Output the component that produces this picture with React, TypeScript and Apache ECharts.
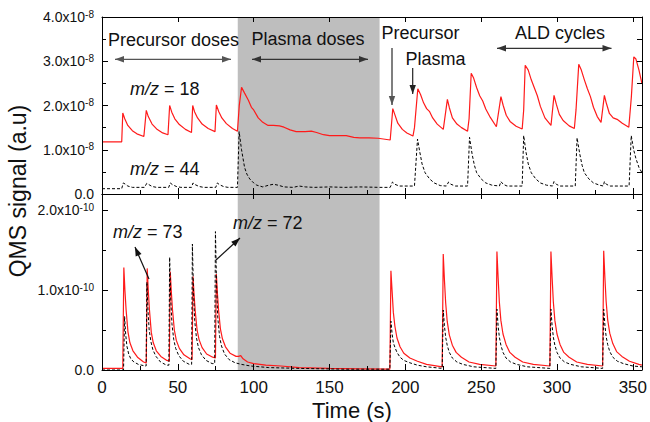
import React, { useEffect, useRef } from 'react';
import * as echarts from 'echarts';

// ---------- data ----------
const timeRange = [0, 356];
const plasmaBand = [89.5, 183];
const xTickStep = 50;
const topTicks = [0, 4];      // x 1e-8
const bottomTicks = [0, 2.2]; // x 1e-10
const topExp = '-8';
const bottomExp = '-10';

// m/z = 18 (units 1e-8)
const mz18: [number, number][] = [
  [0, 1.18], [13, 1.18], [13.7, 1.83], [15, 1.7], [17, 1.55], [20, 1.43], [23, 1.36], [27.6, 1.3],
  [29.2, 1.89], [30.5, 1.75], [33, 1.58], [36, 1.47], [40, 1.38], [43.5, 1.34],
  [44.6, 2.0], [46, 1.85], [48, 1.7], [51, 1.57], [55, 1.46], [59, 1.39],
  [59.8, 2.0], [61, 1.86], [63, 1.72], [66, 1.58], [70, 1.48], [74.5, 1.41],
  [75.4, 2.01], [77, 1.86], [79, 1.72], [82, 1.59], [86, 1.48], [89.3, 1.42],
  [90.5, 2.0], [92, 2.41], [94, 2.28], [96.5, 2.12], [98.5, 1.96], [100, 1.9], [103, 1.72], [106, 1.62],
  [109.5, 1.55], [113, 1.55], [117, 1.54], [120, 1.51], [124, 1.45], [128, 1.41], [134, 1.41], [138, 1.42],
  [141.5, 1.39], [146, 1.34], [150, 1.32], [156, 1.32], [161, 1.32], [166, 1.28], [170, 1.27], [176, 1.27],
  [182, 1.26], [190, 1.22],
  [191.7, 1.93], [193, 1.8], [195, 1.6], [198, 1.46], [201, 1.38], [205, 1.31],
  [206, 1.5], [208.2, 2.38], [210, 2.25], [212, 2.06], [214, 1.93], [216, 1.86], [218, 1.72], [221, 1.58], [225, 1.46],
  [227.7, 2.14], [229, 1.95], [231, 1.72], [234, 1.58], [237, 1.5], [241, 1.42],
  [242, 1.7], [243.4, 2.73], [245, 2.62], [247, 2.4], [249, 2.22], [251, 2.1], [253, 1.92], [256, 1.73], [260, 1.52],
  [263, 2.2], [264.5, 2.0], [266.5, 1.78], [269, 1.64], [273, 1.53], [277, 1.47],
  [278, 1.9], [279, 2.91], [281, 2.8], [283, 2.58], [285, 2.4], [287, 2.22], [289, 1.98], [292, 1.72], [296, 1.55],
  [298, 2.23], [299.5, 2.03], [301.5, 1.8], [304, 1.66], [308, 1.54], [311.4, 1.48],
  [312.5, 1.9], [314.3, 2.93], [316, 2.8], [318, 2.58], [320, 2.38], [322, 2.2], [324, 1.96], [326.5, 1.75], [329, 1.62],
  [331.2, 2.23], [332.5, 2.05], [334.5, 1.82], [337, 1.72], [340, 1.68], [343, 1.6], [347.3, 1.51],
  [349, 2.2], [350.6, 3.1], [352, 3.05], [354, 2.8], [356, 2.49],
];

// m/z = 44 (units 1e-8)
const mz44: [number, number][] = [
  [0, 0.12], [13, 0.12], [14, 0.25], [15.5, 0.22], [17, 0.18], [20, 0.15], [28, 0.15],
  [29.5, 0.24], [31, 0.21], [33, 0.17], [36, 0.15], [44, 0.15],
  [45, 0.25], [46.5, 0.21], [49, 0.17], [52, 0.15], [59, 0.15],
  [60, 0.25], [61.5, 0.21], [64, 0.17], [67, 0.15], [75, 0.15],
  [76, 0.25], [77.5, 0.21], [80, 0.17], [83, 0.15], [89.3, 0.15],
  [90.4, 1.41], [92, 1.0], [94, 0.6], [95.5, 0.45], [97.4, 0.34], [100, 0.25], [102, 0.2], [106, 0.16],
  [110, 0.2], [113, 0.22], [116, 0.2], [120, 0.16], [126, 0.15], [130, 0.18], [134, 0.16], [140, 0.15],
  [150, 0.16], [160, 0.15], [170, 0.16], [183, 0.15], [190, 0.15],
  [191.5, 0.27], [193, 0.22], [196, 0.18], [206, 0.18],
  [208, 1.24], [209.5, 0.95], [211, 0.68], [213, 0.48], [216, 0.34], [219, 0.25], [223, 0.19], [227, 0.18],
  [228.5, 0.27], [230, 0.22], [233, 0.18], [241, 0.18],
  [242.3, 1.28], [244, 0.9], [245.5, 0.65], [247, 0.48], [250, 0.34], [253, 0.25], [257, 0.2], [262, 0.18],
  [263, 0.28], [264.5, 0.22], [267, 0.18], [277, 0.18],
  [278, 1.32], [279.5, 0.95], [281, 0.68], [283, 0.48], [286, 0.34], [289, 0.25], [293, 0.2], [297, 0.18],
  [298, 0.28], [299.5, 0.22], [302, 0.18], [312, 0.18],
  [313.2, 1.27], [315, 0.9], [316.5, 0.65], [318, 0.48], [321, 0.34], [324, 0.25], [328, 0.2], [330.5, 0.18],
  [331.2, 0.28], [332.5, 0.22], [335, 0.18], [347.5, 0.18],
  [348.9, 1.32], [350.5, 1.0], [352, 0.8], [354, 0.6], [356, 0.48],
];

// m/z = 73 (units 1e-10)
const mz73: [number, number][] = [
  [0, 0.02], [13.7, 0.02], [14.4, 1.28], [15.1, 1.0], [15.9, 0.75], [17.1, 0.48], [18.4, 0.34], [20.4, 0.24], [23.4, 0.16], [27.4, 0.1], [29.2, 0.09],
  [29.8, 1.27], [30.5, 1.0], [31.3, 0.75], [32.5, 0.47], [33.8, 0.34], [35.8, 0.24], [38.8, 0.17], [42.8, 0.12], [44.4, 0.11],
  [45, 1.23], [45.7, 0.98], [46.5, 0.75], [47.7, 0.5], [49, 0.37], [51, 0.27], [54, 0.19], [58, 0.14], [59.4, 0.13],
  [60, 1.17], [60.7, 0.94], [61.5, 0.73], [62.7, 0.5], [64, 0.38], [66, 0.28], [69, 0.2], [73, 0.16], [74.8, 0.15],
  [75.4, 1.2], [76.1, 0.96], [76.9, 0.74], [78.1, 0.51], [79.4, 0.39], [81.4, 0.29], [84.4, 0.21], [88.4, 0.17],
  [90, 0.17], [91.5, 0.18], [93, 0.14], [96, 0.1], [100, 0.08], [108, 0.06], [118, 0.05], [130, 0.03], [150, 0.02], [170, 0.015], [189.8, 0.01],
  [190.5, 1.24], [191.3, 0.98], [192.1, 0.72], [193.1, 0.55], [194.5, 0.4], [196.5, 0.29], [199, 0.21], [203, 0.15], [208, 0.11], [214, 0.07], [224.3, 0.04],
  [225, 1.45], [225.8, 1.12], [226.6, 0.84], [227.6, 0.61], [229, 0.44], [231, 0.31], [233.5, 0.22], [237, 0.16], [242, 0.1], [249, 0.07], [259.7, 0.05],
  [260.4, 1.48], [261.2, 1.15], [262, 0.85], [263, 0.62], [264.4, 0.45], [266.4, 0.32], [268.9, 0.22], [272.4, 0.16], [277.4, 0.1], [284.4, 0.07], [295.3, 0.05],
  [296, 1.48], [296.8, 1.15], [297.6, 0.85], [298.6, 0.62], [300, 0.45], [302, 0.32], [304.5, 0.22], [308, 0.16], [313, 0.1], [320, 0.07], [330.1, 0.05],
  [330.8, 1.49], [331.6, 1.15], [332.4, 0.86], [333.4, 0.63], [334.8, 0.46], [336.8, 0.33], [339.3, 0.23], [342.8, 0.17], [347.8, 0.11], [354, 0.07], [356, 0.06],
];

// m/z = 72 (units 1e-10)
const mz72: [number, number][] = [
  [0, 0.0], [14.2, 0.0], [14.9, 0.67], [15.6, 0.45], [16.4, 0.3], [17.6, 0.2], [19, 0.14], [21, 0.1], [24, 0.07], [28.5, 0.05], [29.1, 0.05],
  [29.6, 1.1], [30.3, 0.75], [31.1, 0.5], [32.3, 0.35], [33.6, 0.25], [35.6, 0.17], [38.6, 0.1], [42.6, 0.06], [44.1, 0.06],
  [44.6, 1.41], [45.3, 0.9], [46.1, 0.58], [47.3, 0.38], [48.6, 0.27], [50.6, 0.18], [53.6, 0.11], [57.6, 0.07], [59.1, 0.07],
  [59.6, 1.575], [60.3, 1.0], [61.1, 0.62], [62.3, 0.4], [63.6, 0.28], [65.6, 0.19], [68.6, 0.12], [72.6, 0.08], [74.3, 0.08],
  [74.8, 1.73], [75.5, 1.1], [76.3, 0.66], [77.5, 0.42], [78.8, 0.3], [80.8, 0.2], [83.8, 0.13], [87.8, 0.09],
  [92, 0.07], [98, 0.05], [110, 0.03], [130, 0.02], [160, 0.01], [189.8, 0.01],
  [190.5, 0.61], [191.3, 0.45], [192.1, 0.34], [193.2, 0.28], [194.5, 0.22], [196.5, 0.16], [199, 0.12], [203, 0.09], [208, 0.06], [214, 0.04], [224.3, 0.02],
  [225, 0.75], [225.8, 0.55], [226.6, 0.41], [227.6, 0.31], [229, 0.22], [231, 0.15], [234, 0.1], [238, 0.07], [245, 0.04], [259.7, 0.02],
  [260.4, 0.76], [261.2, 0.55], [262, 0.41], [263, 0.31], [264.4, 0.22], [266.4, 0.15], [269.4, 0.1], [273.4, 0.07], [280.4, 0.04], [295.3, 0.02],
  [296, 0.76], [296.8, 0.55], [297.6, 0.41], [298.6, 0.31], [300, 0.22], [302, 0.15], [305, 0.1], [309, 0.07], [316, 0.04], [330.1, 0.02],
  [330.8, 0.76], [331.6, 0.56], [332.4, 0.42], [333.4, 0.32], [334.8, 0.23], [336.8, 0.16], [339.8, 0.11], [343.8, 0.08], [350, 0.05], [356, 0.04],
];

// ---------- styling ----------
const FONT = '"Liberation Sans", Arial, Helvetica, sans-serif';
const INK = '#111';
const RED = '#ff1a1a';

const rich = {
  m: { fontSize: 14, lineHeight: 16, fontFamily: FONT, color: INK },
  z: { fontSize: 14, lineHeight: 14, fontFamily: FONT, color: INK },
  s: { fontSize: 10, lineHeight: 10, verticalAlign: 'top', fontFamily: FONT, color: INK },
};
const expLabel = (exp: string) => (v: number) =>
  v === 0 ? '{z|0.0}' : `{m|${v.toFixed(1)}x10}{s|${exp}}`;

function xAx(grid: number, opts: any) {
  return {
    type: 'value', gridIndex: grid, min: timeRange[0], max: timeRange[1], z: 6,
    axisLine: { show: false, onZero: false, lineStyle: { color: '#000', width: 1 } },
    axisTick: { show: true, inside: true, length: 6, lineStyle: { color: '#000', width: 1 } },
    axisLabel: { show: false },
    splitLine: { show: false },
    ...opts,
  };
}
function yAx(grid: number, ext: number[], opts: any) {
  return {
    type: 'value', gridIndex: grid, min: ext[0], max: ext[1], z: 6,
    axisLine: { show: false, onZero: false, lineStyle: { color: '#000', width: 1 } },
    axisTick: { show: true, inside: true, length: 6, lineStyle: { color: '#000', width: 1 } },
    axisLabel: { show: false },
    splitLine: { show: false },
    ...opts,
  };
}

function arrowEls(x1: number, y1: number, x2: number, y2: number, color: string, both = false, width = 1.2) {
  const head = (ax: number, ay: number, bx: number, by: number) => {
    const dx = bx - ax, dy = by - ay, d = Math.hypot(dx, dy);
    const ux = dx / d, uy = dy / d, len = 9, half = 3.2;
    const cx = bx - ux * len, cy = by - uy * len;
    return {
      type: 'polygon', z: 30,
      shape: { points: [[bx, by], [cx - uy * half, cy + ux * half], [cx + uy * half, cy - ux * half]] },
      style: { fill: color },
    };
  };
  const els: any[] = [
    { type: 'line', z: 29, shape: { x1, y1, x2, y2 }, style: { stroke: color, lineWidth: width } },
    head(x1, y1, x2, y2),
  ];
  if (both) els.push(head(x2, y2, x1, y1));
  return els;
}

function label(text: string, x: number, y: number, size = 18) {
  return {
    type: 'text', z: 30, x, y,
    style: { text, font: `${size}px ${FONT}`, fill: INK, textAlign: 'left', textVerticalAlign: 'middle' },
  };
}
function mzLabel(num: string, x: number, y: number) {
  return {
    type: 'text', z: 30, x, y,
    style: {
      text: `{i|m/z}{n| = ${num}}`, textAlign: 'left', textVerticalAlign: 'middle',
      rich: {
        i: { fontSize: 18, fontStyle: 'italic', fontFamily: FONT, fill: INK },
        n: { fontSize: 18, fontFamily: FONT, fill: INK },
      },
    },
  };
}

export default function App() {
  const ref = useRef<HTMLDivElement>(null);
  useEffect(() => {
    document.body.style.margin = '0';
    if (!ref.current) return;
    const chart = echarts.init(ref.current, undefined, { renderer: 'svg' });
    const line = (data: any, xi: number, yi: number, color: string, dashed: boolean, extra: any = {}) => ({
      type: 'line', data, xAxisIndex: xi, yAxisIndex: yi, showSymbol: false, symbol: 'none', z: 3,
      lineStyle: { color, width: dashed ? 1 : 1.2, type: dashed ? [3, 2] : 'solid' },
      ...extra,
    });
    const band = {
      markArea: {
        silent: true, z: 1, itemStyle: { color: '#bebebe' },
        data: [[{ xAxis: plasmaBand[0] }, { xAxis: plasmaBand[1] }]],
      },
    };
    chart.setOption({
      animation: false,
      grid: [
        { left: 102, right: 8, top: 17, height: 177 },
        { left: 102, right: 8, top: 194, height: 176 },
      ],
      xAxis: [
        xAx(0, { position: 'bottom', interval: xTickStep, axisLine: { show: true, onZero: false, lineStyle: { color: '#000' } } }),
        xAx(0, { position: 'bottom', interval: xTickStep / 2, axisTick: { show: true, inside: true, length: 4, lineStyle: { color: '#000' } } }),
        xAx(0, { position: 'top', interval: xTickStep, axisLine: { show: true, onZero: false, lineStyle: { color: '#000' } }, axisTick: { show: true, inside: true, length: 5, lineStyle: { color: '#000' } } }),
        xAx(1, {
          position: 'bottom', interval: xTickStep,
          axisLine: { show: true, onZero: false, lineStyle: { color: '#000' } },
          axisLabel: { show: true, fontSize: 17, fontFamily: FONT, color: INK, margin: 9, showMaxLabel: false },
        }),
        xAx(1, { position: 'bottom', interval: xTickStep / 2, axisTick: { show: true, inside: true, length: 4, lineStyle: { color: '#000' } } }),
        xAx(1, { position: 'top', interval: xTickStep, axisLine: { show: true, onZero: false, lineStyle: { color: '#000' } }, axisTick: { show: true, inside: true, length: 5, lineStyle: { color: '#000' } } }),
      ],
      yAxis: [
        yAx(0, topTicks, {
          position: 'left', interval: 1,
          axisLine: { show: true, onZero: false, lineStyle: { color: '#000' } },
          axisLabel: { show: true, margin: 8, formatter: expLabel(topExp), rich },
        }),
        yAx(0, topTicks, { position: 'left', interval: 0.5, axisTick: { show: true, inside: true, length: 4, lineStyle: { color: '#000' } } }),
        yAx(0, topTicks, { position: 'right', interval: 0.5, axisLine: { show: true, onZero: false, lineStyle: { color: '#000' } }, axisTick: { show: true, inside: true, length: 5, lineStyle: { color: '#000' } } }),
        yAx(1, bottomTicks, {
          position: 'left', interval: 1,
          axisLine: { show: true, onZero: false, lineStyle: { color: '#000' } },
          axisLabel: { show: true, margin: 8, formatter: expLabel(bottomExp), rich, showMaxLabel: false },
        }),
        yAx(1, bottomTicks, { position: 'left', interval: 0.5, axisTick: { show: true, inside: true, length: 4, lineStyle: { color: '#000' } } }),
        yAx(1, bottomTicks, { position: 'right', interval: 0.5, axisLine: { show: true, onZero: false, lineStyle: { color: '#000' } }, axisTick: { show: true, inside: true, length: 5, lineStyle: { color: '#000' } } }),
      ],
      series: [
        line(mz18, 0, 0, RED, false, band),
        line(mz44, 0, 0, '#000', true),
        line(mz73, 3, 3, RED, false, band),
        line(mz72, 3, 3, '#000', true),
      ],
      graphic: [
        {
          type: 'text', z: 30, x: 18, y: 191, rotation: Math.PI / 2,
          style: { text: 'QMS signal (a.u)', font: `23px ${FONT}`, fill: INK, textAlign: 'center', textVerticalAlign: 'middle' },
        },
        {
          type: 'text', z: 30, x: 352, y: 410,
          style: { text: 'Time (s)', font: `22px ${FONT}`, fill: INK, textAlign: 'center', textVerticalAlign: 'middle' },
        },
        label('Precursor doses', 108, 39.5),
        label('Plasma doses', 251.5, 38.5),
        label('Precursor', 381.5, 32.5),
        label('Plasma', 405.5, 59),
        label('ALD cycles', 515, 33),
        mzLabel('18', 130, 88.5),
        mzLabel('44', 130, 169),
        mzLabel('73', 113, 231.5),
        mzLabel('72', 233, 222.5),
        ...arrowEls(115, 59.3, 231, 59.3, '#555', true),
        ...arrowEls(252, 59.3, 368, 59.3, '#333', true),
        ...arrowEls(497, 48.3, 611.5, 48.3, '#333', true),
        ...arrowEls(392, 48, 392, 105, '#555', false, 1.5),
        ...arrowEls(412.7, 68, 412.7, 94, '#222', false),
        ...arrowEls(149, 279, 135, 247, '#111', false),
        ...arrowEls(216, 260, 240, 238, '#111', false),
      ],
    });
    return () => chart.dispose();
  }, []);
  return <div ref={ref} style={{ width: 650, height: 422 }} />;
}
